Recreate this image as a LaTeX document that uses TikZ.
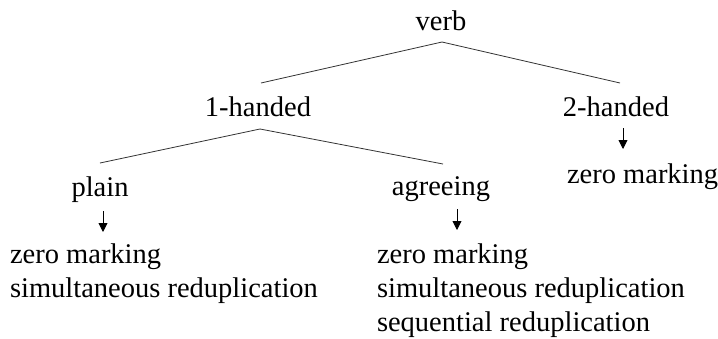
\documentclass[tikz,border=0pt]{standalone}
\usepackage{fontspec}
\setmainfont{Liberation Serif}
\usetikzlibrary{arrows.meta}
\begin{document}
\begin{tikzpicture}[x=1pt,y=-1pt,
  lbl/.style={inner sep=0pt,outer sep=0pt,font=\fontsize{28.5}{34}\selectfont},
  ctr/.style={lbl,anchor=base},
  lft/.style={lbl,anchor=base west},
  branch/.style={draw=black!80,line width=0.8pt},
  down/.style={draw=black,line width=0.9pt,-{Triangle[width=9pt,length=9pt]}}]
\useasboundingbox (0,0) rectangle (718,338);
% nodes
\node[ctr] (verb) at (441,30) {verb};
\node[ctr] (one) at (258,116) {1-handed};
\node[ctr] (two) at (616,116) {2-handed};
\node[ctr] (plain) at (100,196) {plain};
\node[ctr] (agr) at (441,195) {agreeing};
\node[lft] (zmR) at (567,183) {zero marking};
\node[lft] (zmL) at (10,263) {zero marking};
\node[lft] (srL) at (10,297) {simultaneous reduplication};
\node[lft] (zmA) at (377,263) {zero marking};
\node[lft] (srA) at (377,297) {simultaneous reduplication};
\node[lft] (sqA) at (377,331) {sequential reduplication};
% connector points
\coordinate (verbB) at (442,42);
\coordinate (oneT) at (261,83);
\coordinate (twoT) at (620,83);
\coordinate (oneB) at (260,129);
\coordinate (plainT) at (100,163);
\coordinate (agrT) at (443,164);
\coordinate (plainA) at (103,211);
\coordinate (plainZ) at (103,232);
\coordinate (agrA) at (457,209);
\coordinate (agrZ) at (457,230);
\coordinate (twoA) at (623,128);
\coordinate (twoZ) at (623,149);
% branches
\draw[branch] (verbB) -- (oneT);
\draw[branch] (verbB) -- (twoT);
\draw[branch] (oneB) -- (plainT);
\draw[branch] (oneB) -- (agrT);
% arrows
\draw[down] (plainA) -- (plainZ);
\draw[down] (agrA) -- (agrZ);
\draw[down] (twoA) -- (twoZ);
\end{tikzpicture}
\end{document}
